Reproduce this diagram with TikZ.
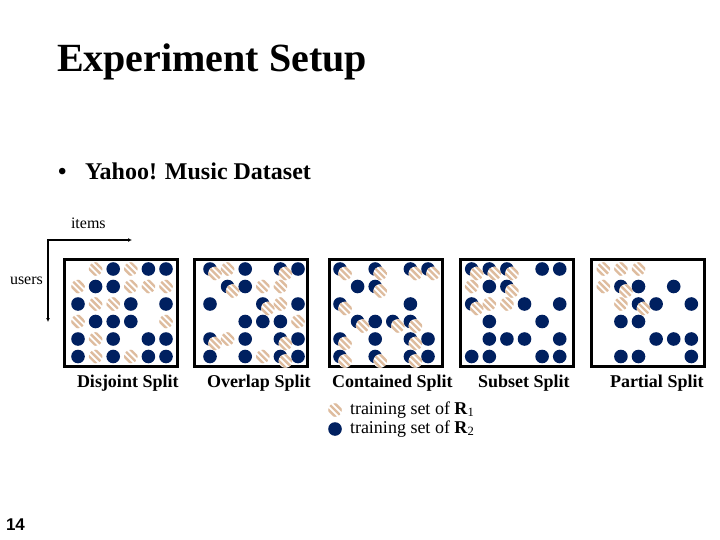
\documentclass[tikz,border=0pt]{standalone}
\usepackage{fontspec}
\setmainfont{Liberation Serif}
\newfontfamily\arialf{Liberation Sans}
\usetikzlibrary{arrows.meta}
\definecolor{navy}{RGB}{0,32,96}
\definecolor{tanc}{RGB}{222,188,158}
\newcommand\hatchdot[1]{%
  \begin{scope}[shift={(#1)}]
    \clip (0,0) circle (6.8pt);
    \fill[white] (-8,-8) rectangle (8,8);
    \foreach \k in {-12.8,-6.4,0,6.4,12.8}
      \draw[tanc,line width=2.4pt] (\k-10,-10) -- (\k+10,10);
  \end{scope}}
\newcommand\bluedot[1]{\fill[navy] (#1) circle (6.8pt);}
\newcommand\drawpanel[3]{%
  \draw[line width=3pt] (#1+1.5,259.5) rectangle (#1+114.5,366.5);
  \foreach \rw [count=\ri] in {#3} {
    \foreach \t [count=\ci] in \rw {
      \pgfmathsetmacro\px{#2+(\ci-1)*17.6}
      \pgfmathsetmacro\py{269+(\ri-1)*17.5}
      \if B\t \bluedot{\px,\py}\fi
      \if O\t \bluedot{\px,\py}\hatchdot{\px+5,\py+4.5}\fi
      \if R\t \hatchdot{\px,\py}\fi
    }}}
\tikzset{
  txt/.style={anchor=base west, inner sep=0pt, outer sep=0pt},
  lab/.style={txt, font=\fontsize{18}{20}\selectfont\bfseries},
}
\begin{document}
\begin{tikzpicture}[x=1pt,y=-1pt]
\useasboundingbox[fill=white] (0,0) rectangle (720,540);
\node[txt, font=\fontsize{40}{46}\selectfont\bfseries] (title) at (57,72) {Experiment Setup};
\node[txt, font=\fontsize{24}{28}\selectfont\bfseries] (bul) at (58,180) {•};
\node[txt, font=\fontsize{24}{28}\selectfont\bfseries] (yahoo) at (85,180) {Yahoo! Music Dataset};
\node[txt, font=\fontsize{16}{18}\selectfont] (items) at (71,229) {items};
\node[txt, font=\fontsize{16}{18}\selectfont] (users) at (10,284) {users};
\coordinate (o) at (48,240);
\coordinate (xe) at (132,240);
\coordinate (ye) at (48,322);
\draw[line width=2pt, {Latex[length=4pt,width=4pt]}-{Latex[length=4pt,width=4pt]}] (xe) -- (o) -- (ye);

\drawpanel{63}{78}{{0,R,B,R,B,B},{R,B,B,R,R,R},{B,R,R,B,0,B},{R,B,B,B,0,R},{B,R,B,0,B,B},{B,R,B,R,B,B}}
\drawpanel{193}{210}{{O,R,B,0,O,B},{0,O,B,R,R,0},{B,0,0,O,R,B},{0,0,B,B,B,R},{O,R,B,0,O,B},{B,0,B,R,O,B}}
\drawpanel{328}{340}{{O,0,O,0,O,O},{0,B,O,0,0,0},{O,0,0,0,B,0},{0,O,B,O,O,0},{O,0,B,0,O,B},{O,0,O,0,O,B}}
\drawpanel{459}{471.7}{{O,O,O,0,B,B},{R,B,O,0,0,0},{O,R,R,B,0,B},{0,B,0,0,B,0},{0,B,B,B,0,B},{B,B,0,0,B,B}}
\drawpanel{590}{603.3}{{R,R,R,0,0,0},{R,O,B,0,B,0},{0,R,O,B,0,B},{0,B,B,0,0,0},{0,0,0,B,B,B},{0,B,B,0,0,B}}

\node[lab] (l1) at (77,387.5) {Disjoint Split};
\node[lab] (l2) at (207,387.5) {Overlap Split};
\node[lab] (l3) at (332,387.5) {Contained Split};
\node[lab] (l4) at (478,387.5) {Subset Split};
\node[lab] (l5) at (610,387.5) {Partial Split};

\hatchdot{335,410}
\bluedot{335,429}
\node[txt, font=\fontsize{18}{20}\selectfont] (leg1) at (350,414) {training set of \textbf{R}\textsubscript{1}};
\node[txt, font=\fontsize{18}{20}\selectfont] (leg2) at (350,433) {training set of \textbf{R}\textsubscript{2}};

\node[txt, font=\arialf\bfseries\fontsize{17}{19}\selectfont] (pg) at (6,530) {14};
\end{tikzpicture}
\end{document}
